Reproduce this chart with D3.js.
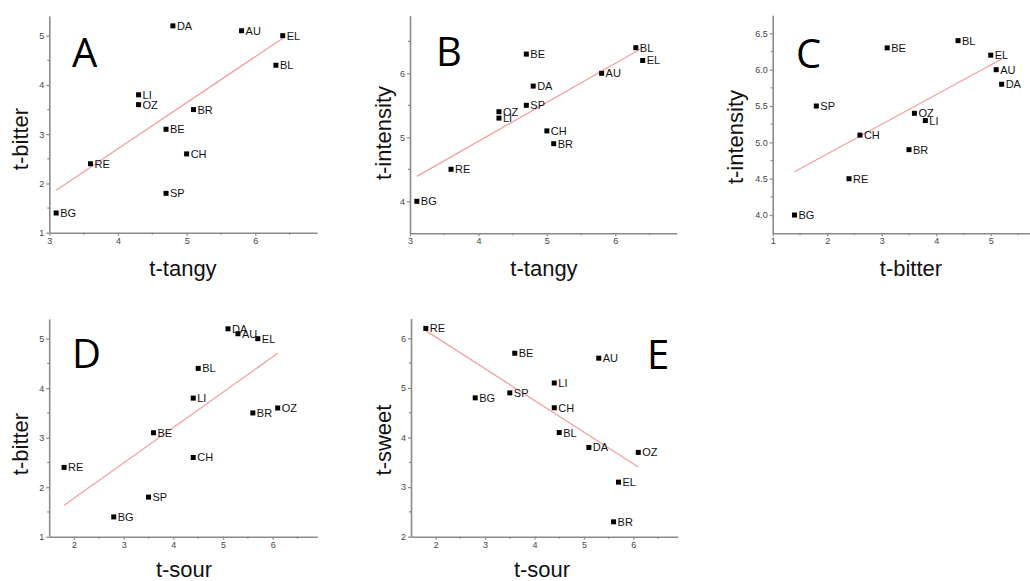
<!DOCTYPE html>
<html>
<head>
<meta charset="utf-8">
<script src="https://cdn.jsdelivr.net/npm/d3@7"></script>
<style>
  html, body { margin: 0; padding: 0; background: #fff; }
  svg { display: block; }
</style>
</head>
<body>
<div id="chart"></div>
<script>
// ---- data ----
const samples   = ["BG", "RE", "LI", "OZ", "BE", "SP", "DA", "CH", "BR", "AU", "BL", "EL"];
const tTangy    = [3.1, 3.6, 4.3, 4.3, 4.7, 4.7, 4.8, 5.0, 5.1, 5.8, 6.3, 6.4];
const tBitter   = [1.4, 2.4, 3.8, 3.6, 3.1, 1.8, 5.2, 2.6, 3.5, 5.1, 4.4, 5.0];
const tIntensity= [4.0, 4.5, 5.3, 5.4, 6.3, 5.5, 5.8, 5.1, 4.9, 6.0, 6.4, 6.2];
const tSour     = [2.8, 1.8, 4.4, 6.1, 3.6, 3.5, 5.1, 4.4, 5.6, 5.3, 4.5, 5.7];
const tSweet    = [4.8, 6.2, 5.1, 3.7, 5.7, 4.9, 3.8, 4.6, 2.3, 5.6, 4.1, 3.1];

const panelLetters = ["A", "B", "C", "D", "E"];
const xTitles = ["t-tangy", "t-tangy", "t-bitter", "t-sour", "t-sour"];
const yTitles = ["t-bitter", "t-intensity", "t-intensity", "t-bitter", "t-sweet"];

// ---- layout ----
const W = 1030, H = 581;
const svg = d3.select("#chart").append("svg").attr("width", W).attr("height", H);

const panels = [
  { x: tTangy,  y: tBitter,    xd: [3, 6.9],  yd: [1, 5.4],     xr: [49.3, 317.1], yr: [232.7, 16.0],
    xStep: 1, yStep: 1, yFmt: d3.format("d"), letter: [72, 67], xt: [183, 276], yt: [28, 139] },
  { x: tTangy,  y: tIntensity, xd: [3, 6.9],  yd: [3.5, 6.9],   xr: [410, 676.9],  yr: [233.3, 15.7],
    xStep: 1, yStep: 1, yFmt: d3.format("d"), letter: [436, 66], xt: [544, 276], yt: [391, 133] },
  { x: tBitter, y: tIntensity, xd: [1, 5.72], yd: [3.75, 6.75], xr: [772.7, 1030], yr: [233.2, 15.2],
    xStep: 1, yStep: 0.5, yFmt: d3.format(".1f"), letter: [796, 68], xt: [911, 276], yt: [743, 137] },
  { x: tSour,   y: tBitter,    xd: [1.5, 6.9], yd: [1, 5.4],    xr: [49.2, 317.4], yr: [536.7, 318.9],
    xStep: 1, yStep: 1, yFmt: d3.format("d"), letter: [72, 368], xt: [184, 577], yt: [28, 444] },
  { x: tSour,   y: tSweet,     xd: [1.5, 6.9], yd: [2, 6.4],    xr: [411, 677.8],  yr: [536.7, 318.5],
    xStep: 1, yStep: 1, yFmt: d3.format("d"), letter: [647, 369], xt: [542, 577], yt: [391, 440] }
];

const axisColor = "#8a8a8a";
const tickTextColor = "#444";

function ticksBetween(domain, step, offset) {
  const out = [];
  const start = Math.ceil((domain[0] - offset) / step - 1e-9) * step + offset;
  for (let v = start; v <= domain[1] + 1e-9; v += step) out.push(+v.toFixed(4));
  return out;
}

function linFit(xs, ys) {
  const n = xs.length;
  const mx = d3.mean(xs), my = d3.mean(ys);
  let sxy = 0, sxx = 0;
  for (let i = 0; i < n; i++) { sxy += (xs[i] - mx) * (ys[i] - my); sxx += (xs[i] - mx) ** 2; }
  const b = sxy / sxx, a = my - b * mx;
  return x => a + b * x;
}

panels.forEach((p, i) => {
  const g = svg.append("g");
  const xs = d3.scaleLinear().domain(p.xd).range(p.xr);
  const ys = d3.scaleLinear().domain(p.yd).range(p.yr);
  const x0 = p.xr[0], y0 = p.yr[0];

  const xMajor = ticksBetween(p.xd, p.xStep, 0);
  const xMinor = ticksBetween(p.xd, p.xStep, p.xStep / 2).filter(v => Math.abs(xs(v) - x0) > 1 && xs(v) < p.xr[1] - 1);
  const yMajor = ticksBetween(p.yd, p.yStep, 0).filter(v => v >= p.yd[0]);
  const yMinor = ticksBetween(p.yd, p.yStep, p.yStep / 2).filter(v => Math.abs(ys(v) - y0) > 1 && ys(v) > p.yr[1] + 1);

  // x axis
  const xAxis = d3.axisBottom(xs).tickValues(xMajor).tickSize(3).tickSizeOuter(0).tickFormat(d3.format("d"));
  const gx = g.append("g").attr("transform", `translate(0,${y0})`).call(xAxis);
  gx.select(".domain").attr("stroke", axisColor).attr("stroke-width", 1.6);
  gx.selectAll(".tick line").attr("stroke", axisColor).attr("stroke-width", 1.2);
  gx.selectAll(".tick text").attr("fill", tickTextColor).attr("font-size", 9)
    .attr("font-family", "Liberation Sans, Arial, sans-serif").attr("dy", "0.9em").attr("y", 3);
  gx.selectAll(".minor").data(xMinor).enter().append("line")
    .attr("x1", d => xs(d)).attr("x2", d => xs(d)).attr("y1", 0).attr("y2", 2)
    .attr("stroke", axisColor).attr("stroke-width", 1.2);

  // y axis
  const yAxis = d3.axisLeft(ys).tickValues(yMajor).tickSize(3).tickSizeOuter(0).tickFormat(p.yFmt);
  const gy = g.append("g").attr("transform", `translate(${x0},0)`).call(yAxis);
  gy.select(".domain").attr("stroke", axisColor).attr("stroke-width", 1.6);
  gy.selectAll(".tick line").attr("stroke", axisColor).attr("stroke-width", 1.2);
  gy.selectAll(".tick text").attr("fill", tickTextColor).attr("font-size", 9)
    .attr("font-family", "Liberation Sans, Arial, sans-serif").attr("x", -5);
  gy.selectAll(".minor").data(yMinor).enter().append("line")
    .attr("y1", d => ys(d)).attr("y2", d => ys(d)).attr("x1", 0).attr("x2", -2)
    .attr("stroke", axisColor).attr("stroke-width", 1.2);

  // regression line
  const f = linFit(p.x, p.y);
  const xmin = d3.min(p.x), xmax = d3.max(p.x);
  g.append("line")
    .attr("x1", xs(xmin)).attr("y1", ys(f(xmin)))
    .attr("x2", xs(xmax)).attr("y2", ys(f(xmax)))
    .attr("stroke", "#f4a0a0").attr("stroke-width", 1.3);

  // points
  const pts = samples.map((s, k) => ({ s, x: p.x[k], y: p.y[k] }));
  g.selectAll("rect.pt").data(pts).enter().append("rect")
    .attr("x", d => xs(d.x) - 2.5).attr("y", d => ys(d.y) - 2.5)
    .attr("width", 5).attr("height", 5).attr("fill", "#000");
  g.selectAll("text.lbl").data(pts).enter().append("text")
    .attr("x", d => xs(d.x) + 4).attr("y", d => ys(d.y)).attr("dy", "0.36em")
    .attr("font-size", 11).attr("font-family", "Liberation Sans, Arial, sans-serif")
    .attr("fill", "#111").text(d => d.s);

  // panel letter
  g.append("text").attr("x", p.letter[0]).attr("y", p.letter[1])
    .attr("font-size", 40).attr("font-family", "Open Sans, Liberation Sans, sans-serif")
    .attr("fill", "#000").text(panelLetters[i]);

  // axis titles
  g.append("text").attr("x", p.xt[0]).attr("y", p.xt[1]).attr("text-anchor", "middle")
    .attr("font-size", 22).attr("font-family", "Liberation Sans, Arial, sans-serif")
    .attr("fill", "#111").text(xTitles[i]);
  g.append("text")
    .attr("transform", `translate(${p.yt[0]},${p.yt[1]}) rotate(-90)`)
    .attr("text-anchor", "middle")
    .attr("font-size", 22).attr("font-family", "Liberation Sans, Arial, sans-serif")
    .attr("fill", "#111").text(yTitles[i]);
});
</script>
</body>
</html>
